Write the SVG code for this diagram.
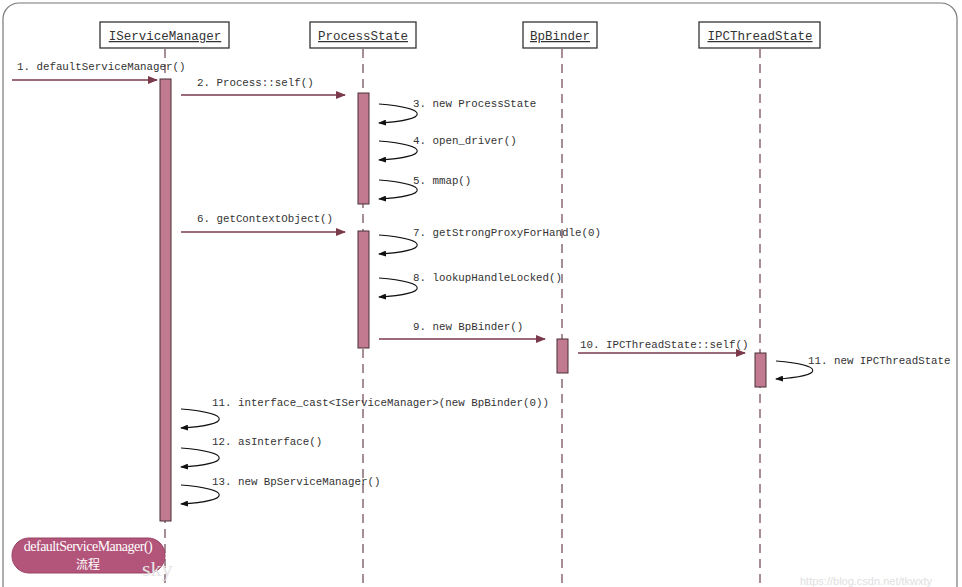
<svg xmlns="http://www.w3.org/2000/svg" width="962" height="587" viewBox="0 0 962 587">
<defs>
<marker id="ah" markerWidth="10" markerHeight="8" refX="9" refY="4" orient="auto" markerUnits="userSpaceOnUse"><path d="M0,0 L10,4 L0,8 Z" fill="#7a3a4c"/></marker>
<marker id="sh" markerWidth="8" markerHeight="6" refX="7" refY="3" orient="auto" markerUnits="userSpaceOnUse"><path d="M0,0 L8,3 L0,6 Z" fill="#111"/></marker>
<style>
.hd{fill:#fff;stroke:#333;stroke-width:1.3}
.ht{font-family:"Liberation Mono",monospace;font-size:12.5px;fill:#333;text-decoration:underline;text-anchor:middle}
.ll{stroke:#8a6a72;stroke-width:1.5;stroke-dasharray:9 6;fill:none}
.act{fill:#c27a90;stroke:#4a3036;stroke-width:1}
.msg{stroke:#7a3a4c;stroke-width:1.3;fill:none;marker-end:url(#ah)}
.self{stroke:#111;stroke-width:1.1;fill:none;marker-end:url(#sh)}
.lb{font-family:"Liberation Mono",monospace;font-size:10.8px;fill:#333}
</style>
</defs>
<rect x="3" y="3" width="954" height="620" rx="16" fill="#fff" stroke="#777" stroke-width="1.2"/>
<g id="node-IServiceManager">
<rect class="hd" x="100" y="22" width="129" height="26"/>
<text class="ht" x="165" y="40">IServiceManager</text>
<line class="ll" x1="165" y1="49" x2="165" y2="587"/>
<rect class="act" x="160" y="79" width="11" height="442"/>
</g>
<g id="node-ProcessState">
<rect class="hd" x="310" y="22" width="106" height="26"/>
<text class="ht" x="363" y="40">ProcessState</text>
<line class="ll" x1="363" y1="49" x2="363" y2="587"/>
<rect class="act" x="358" y="93" width="11" height="111"/>
<rect class="act" x="358" y="231" width="11" height="117"/>
</g>
<g id="node-BpBinder">
<rect class="hd" x="523" y="22" width="74" height="26"/>
<text class="ht" x="560" y="40">BpBinder</text>
<line class="ll" x1="562" y1="49" x2="562" y2="587"/>
<rect class="act" x="557" y="339" width="11" height="34"/>
</g>
<g id="node-IPCThreadState">
<rect class="hd" x="699" y="22" width="121" height="26"/>
<text class="ht" x="760" y="40">IPCThreadState</text>
<line class="ll" x1="760" y1="49" x2="760" y2="587"/>
<rect class="act" x="755" y="353" width="11" height="34"/>
</g>
<g id="connectors">
<line class="msg" x1="12" y1="80" x2="157" y2="80"/>
<text class="lb" x="17" y="70">1. defaultServiceManager()</text>
<line class="msg" x1="181" y1="95" x2="345" y2="95"/>
<text class="lb" x="197" y="86">2. Process::self()</text>
<path class="self" d="M379,104 C430,108 430,120 379,123"/>
<text class="lb" x="413" y="107">3. new ProcessState</text>
<path class="self" d="M379,141 C430,145 430,157 379,160"/>
<text class="lb" x="413" y="144">4. open_driver()</text>
<path class="self" d="M379,180 C430,184 430,196 379,199"/>
<text class="lb" x="413" y="184">5. mmap()</text>
<line class="msg" x1="181" y1="232" x2="345" y2="232"/>
<text class="lb" x="197" y="222">6. getContextObject()</text>
<path class="self" d="M379,235 C430,239 430,251 379,254"/>
<text class="lb" x="413" y="236">7. getStrongProxyForHandle(0)</text>
<path class="self" d="M379,278 C430,282 430,294 379,297"/>
<text class="lb" x="413" y="281">8. lookupHandleLocked()</text>
<line class="msg" x1="379" y1="339" x2="545" y2="339"/>
<text class="lb" x="413" y="330">9. new BpBinder()</text>
<line class="msg" x1="578" y1="353" x2="745" y2="353"/>
<text class="lb" x="580" y="348">10. IPCThreadState::self()</text>
<path class="self" d="M776,361 C825,365 825,376 776,379"/>
<text class="lb" x="808" y="364">11. new IPCThreadState</text>
<path class="self" d="M181,409 C232,413 232,425 181,428"/>
<text class="lb" x="212" y="406">11. interface_cast&lt;IServiceManager&gt;(new BpBinder(0))</text>
<path class="self" d="M181,448 C232,452 232,464 181,467"/>
<text class="lb" x="212" y="445">12. asInterface()</text>
<path class="self" d="M181,485 C232,489 232,501 181,504"/>
<text class="lb" x="212" y="485">13. new BpServiceManager()</text>
</g>
<g id="node-title">
<rect x="12" y="538" width="153" height="35" rx="17" fill="#b3547a" stroke="#9a4466" stroke-width="1"/>
<text x="88" y="551" font-family="Liberation Serif, serif" font-size="14" fill="#fff" text-anchor="middle" letter-spacing="-0.5">defaultServiceManager()</text>
<text x="88" y="569" font-family="Noto Sans CJK SC, sans-serif" font-size="12" fill="#fff" text-anchor="middle">流程</text>
</g>
<text x="142" y="576" font-family="Liberation Serif, serif" font-size="22" fill="#e4e4e4">sky</text>
<text x="800" y="585" font-family="Liberation Sans, sans-serif" font-size="11" fill="#e0e0e0">https://blog.csdn.net/tkwxty</text>
</svg>
